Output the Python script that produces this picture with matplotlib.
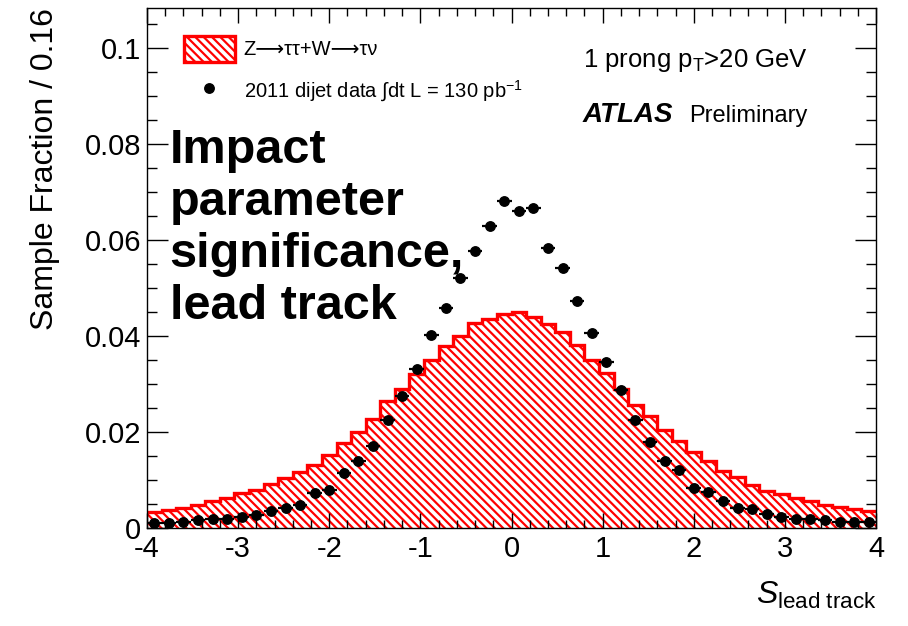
import numpy as np
import matplotlib
matplotlib.use("Agg")
import matplotlib.pyplot as plt
from matplotlib.patches import Patch
from matplotlib.lines import Line2D
from matplotlib.ticker import MultipleLocator, FixedLocator, FixedFormatter

plt.rcParams['font.family'] = ['Liberation Sans', 'DejaVu Sans']
plt.rcParams['mathtext.fontset'] = 'custom'
plt.rcParams['mathtext.rm'] = 'Liberation Sans'
plt.rcParams['mathtext.it'] = 'Liberation Sans:italic'
plt.rcParams['mathtext.bf'] = 'Liberation Sans:bold'
plt.rcParams['hatch.linewidth'] = 1.6

# binning: 50 bins of width 0.16 between -4 and 4
bin_edges = np.linspace(-4, 4, 51)
bin_centers = 0.5 * (bin_edges[:-1] + bin_edges[1:])

# Z->tautau + W->taunu signal sample fraction per bin
signal_frac = [
    0.0034, 0.0038, 0.0042, 0.0049, 0.0056, 0.0063, 0.0072, 0.0080, 0.0091, 0.0104,
    0.0117, 0.0132, 0.0152, 0.0177, 0.0201, 0.0228, 0.0264, 0.0289, 0.0320, 0.0349,
    0.0379, 0.0400, 0.0426, 0.0435, 0.0446, 0.0449, 0.0439, 0.0425, 0.0408, 0.0381,
    0.0350, 0.0322, 0.0290, 0.0257, 0.0233, 0.0205, 0.0182, 0.0158, 0.0140, 0.0119,
    0.0107, 0.0090, 0.0078, 0.0071, 0.0062, 0.0056, 0.0049, 0.0044, 0.0039, 0.0036,
]

# 2011 dijet data sample fraction per bin
data_frac = [
    0.0011, 0.0011, 0.0013, 0.0016, 0.0018, 0.0019, 0.0024, 0.0027, 0.0036, 0.0041,
    0.0048, 0.0073, 0.0079, 0.0114, 0.0139, 0.0170, 0.0224, 0.0276, 0.0332, 0.0402,
    0.0459, 0.0520, 0.0577, 0.0630, 0.0682, 0.0661, 0.0666, 0.0583, 0.0541, 0.0473,
    0.0407, 0.0345, 0.0288, 0.0224, 0.0180, 0.0139, 0.0120, 0.0084, 0.0074, 0.0057,
    0.0042, 0.0039, 0.0029, 0.0024, 0.0019, 0.0019, 0.0017, 0.0013, 0.0013, 0.0013,
]

ytick_vals = [0, 0.02, 0.04, 0.06, 0.08, 0.1]
ytick_labels = ["0", "0.02", "0.04", "0.06", "0.08", "0.1"]
xtick_vals = [-4, -3, -2, -1, 0, 1, 2, 3, 4]
xtick_labels = ["-4", "-3", "-2", "-1", "0", "1", "2", "3", "4"]

hatch_style = "\\\\\\\\"

fig = plt.figure(figsize=(9.08, 6.26), dpi=100)
ax = fig.add_axes([0.1619, 0.1565, 0.8029, 0.8307])

# hatched signal histogram: fill first, thick outline on top
ax.stairs(signal_frac, bin_edges, fill=True, facecolor="white", edgecolor="red",
          hatch=hatch_style, linewidth=0, zorder=1)
ax.stairs(signal_frac, bin_edges, color="red", linewidth=2.4, baseline=None, zorder=2)

# data points with bin-width horizontal bars
half_width = np.diff(bin_edges) / 2
ax.errorbar(bin_centers, data_frac, xerr=half_width, fmt="o", color="black",
            markersize=6.8, elinewidth=1.6, capsize=0, zorder=3)

ax.set_xlim(-4, 4)
ax.set_ylim(0, 0.1083)

ax.xaxis.set_major_locator(FixedLocator(xtick_vals))
ax.xaxis.set_major_formatter(FixedFormatter(xtick_labels))
ax.xaxis.set_minor_locator(MultipleLocator(0.2))
ax.yaxis.set_major_locator(FixedLocator(ytick_vals))
ax.yaxis.set_major_formatter(FixedFormatter(ytick_labels))
ax.yaxis.set_minor_locator(MultipleLocator(0.005))

ax.tick_params(which="both", direction="in", top=True, right=True, width=1.0,
               labelsize=21, colors="black")
ax.tick_params(axis="x", which="major", length=11, pad=5)
ax.tick_params(axis="x", which="minor", length=5.5)
ax.tick_params(axis="y", which="major", length=15, pad=4)
ax.tick_params(axis="y", which="minor", length=7.5)
for side in ax.spines.values():
    side.set_linewidth(1.0)

ax.set_ylabel("Sample Fraction / 0.16", fontsize=23, loc="top", labelpad=18)
ax.set_xlabel(r"$S_{\mathrm{lead\ track}}$", fontsize=23, loc="right", labelpad=12)

# legend
handles = [
    Patch(facecolor="white", edgecolor="red", hatch=hatch_style, linewidth=2.4),
    Line2D([], [], marker="o", color="black", linestyle="none", markersize=6.8),
]
labels = [
    "Z\u27f6\u03c4\u03c4+W\u27f6\u03c4\u03bd",
    r"2011 dijet data $\int$dt L = 130 pb$^{-1}$",
]
ax.legend(handles, labels, loc="upper left", bbox_to_anchor=(0.04, 0.962),
          frameon=False, fontsize=14.5, handlelength=2.5, handleheight=1.6,
          handletextpad=0.45, labelspacing=0.8, borderaxespad=0)

ax.text(0.598, 0.9, r"1 prong p$_{\mathrm{T}}$>20 GeV", transform=ax.transAxes,
        fontsize=18.5, va="center", ha="left")
ax.text(0.597, 0.795, "ATLAS", transform=ax.transAxes, fontsize=20,
        fontweight="bold", fontstyle="italic", va="center", ha="left")
ax.text(0.744, 0.793, "Preliminary", transform=ax.transAxes, fontsize=17,
        va="center", ha="left")

ax.text(0.031, 0.77, "Impact\nparameter\nsignificance,\nlead track",
        transform=ax.transAxes, fontsize=35, fontweight="bold", va="top",
        ha="left", linespacing=1.2)

fig.savefig("out.png", dpi=100)
